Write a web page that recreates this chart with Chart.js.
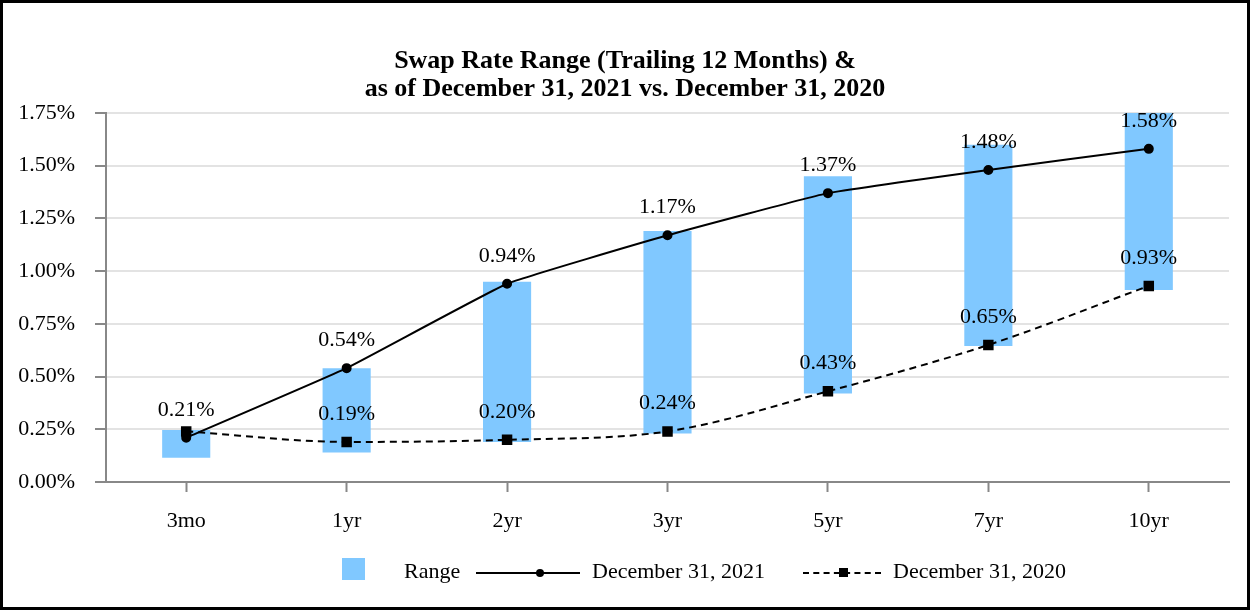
<!DOCTYPE html>
<html>
<head>
<meta charset="utf-8">
<script src="https://cdn.jsdelivr.net/npm/chart.js@4.4.1/dist/chart.umd.min.js"></script>
<style>
  body { margin: 0; background: #fff; }
  #wrap { position: relative; width: 1250px; height: 610px; box-sizing: border-box; border: 3px solid #000; }
  #chart1 { position: absolute; left: 0; top: 0; }
  .leg { position: absolute; top: 555px; font-family: "Liberation Serif", serif; font-size: 22px; color: #000; }
</style>
</head>
<body>
<div id="wrap">
  <canvas id="chart1" width="1244" height="604"></canvas>
  <div class="leg" style="left:339px; top:555px; width:23px; height:22px; background:#80c8ff;"></div>
  <div class="leg" style="left:401px;">Range</div>
  <div class="leg" style="left:473px; top:569px; width:104px; height:2px; background:#000;"></div>
  <div class="leg" style="left:533px; top:566px; width:8px; height:8px; border-radius:50%; background:#000;"></div>
  <div class="leg" style="left:589px;">December 31, 2021</div>
  <div class="leg" style="left:800px; top:569px; width:78px; height:0; border-top:2px dashed #000;"></div>
  <div class="leg" style="left:836px; top:565px; width:9px; height:9px; background:#000;"></div>
  <div class="leg" style="left:890px;">December 31, 2020</div>
</div>
<script>
const tenors = ['3mo', '1yr', '2yr', '3yr', '5yr', '7yr', '10yr'];
const rangeLow = [0.115, 0.14, 0.19, 0.23, 0.42, 0.645, 0.91];
const rangeHigh = [0.247, 0.54, 0.95, 1.19, 1.45, 1.60, 1.75];
const rates2021 = [0.21, 0.54, 0.94, 1.17, 1.37, 1.48, 1.58];
const rates2020 = [0.24, 0.19, 0.20, 0.24, 0.43, 0.65, 0.93];
const yTicks = [0, 0.25, 0.5, 0.75, 1.0, 1.25, 1.5, 1.75];
const titleLines = ['Swap Rate Range (Trailing 12 Months) &', 'as of December 31, 2021 vs. December 31, 2020'];

const serif = '"Liberation Serif", "Times New Roman", serif';

// title centred on the whole canvas, not on the padded box
const titlePlugin = {
    id: 'titlePlugin',
    beforeDraw(chart) {
        const ctx = chart.ctx;
        ctx.save();
        ctx.font = 'bold 26px ' + serif;
        ctx.fillStyle = '#000';
        ctx.textAlign = 'center';
        ctx.textBaseline = 'middle';
        titleLines.forEach((t, i) => ctx.fillText(t, chart.width / 2, 58 + i * 28));
        ctx.restore();
    }
};

// labels above each line point (the 3mo 2020 label is not shown in the original)
const pointLabels = {
    id: 'pointLabels',
    afterDatasetsDraw(chart) {
        const ctx = chart.ctx;
        ctx.save();
        ctx.font = '22px ' + serif;
        ctx.fillStyle = '#000';
        ctx.textAlign = 'center';
        ctx.textBaseline = 'middle';
        [1, 2].forEach(i => {
            const meta = chart.getDatasetMeta(i);
            const vals = chart.data.datasets[i].data;
            meta.data.forEach((pt, j) => {
                if (i == 2 && j == 0) return;
                ctx.fillText(vals[j].toFixed(2) + '%', pt.x, pt.y - 28);
            });
        });
        ctx.restore();
    }
};

const ctx = document.getElementById('chart1');
new Chart(ctx, {
    data: {
        labels: tenors,
        datasets: [
            {
                type: 'bar',
                label: 'Range',
                data: tenors.map((t, i) => [rangeLow[i], rangeHigh[i]]),
                backgroundColor: '#80c8ff',
                borderWidth: 0,
                barPercentage: 0.3,
                categoryPercentage: 1,
                order: 3
            },
            {
                type: 'line',
                label: 'December 31, 2021',
                data: rates2021,
                borderColor: '#000',
                backgroundColor: '#000',
                borderWidth: 2,
                pointRadius: 4,
                pointStyle: 'circle',
                tension: 0.1,
                order: 1
            },
            {
                type: 'line',
                label: 'December 31, 2020',
                data: rates2020,
                borderColor: '#000',
                backgroundColor: '#000',
                borderWidth: 2,
                borderDash: [7, 5],
                pointRadius: 6,
                pointStyle: 'rect',
                cubicInterpolationMode: 'monotone',
                order: 2
            }
        ]
    },
    options: {
        responsive: false,
        animation: false,
        layout: { padding: { left: 0, right: 18, top: 110, bottom: 0 } },
        scales: {
            x: {
                offset: true,
                grid: { offset: false, drawOnChartArea: false, drawTicks: true, tickLength: 10, tickColor: '#888', tickWidth: 2 },
                border: { color: '#888', width: 2 },
                ticks: { color: '#000', padding: 16, font: { family: serif, size: 22 } },
                afterFit: s => { s.height = 125; }
            },
            y: {
                min: 0,
                max: 1.75,
                afterBuildTicks: s => { s.ticks = yTicks.map(v => ({ value: v })); },
                grid: { color: '#e3e3e3', lineWidth: 2, tickLength: 11, tickColor: '#888', tickWidth: 2 },
                border: { color: '#888', width: 2 },
                ticks: {
                    color: '#000',
                    padding: 20,
                    font: { family: serif, size: 22 },
                    callback: v => v.toFixed(2) + '%'
                },
                afterFit: s => { s.width = 103; }
            }
        },
        plugins: {
            legend: { display: false },
            tooltip: { enabled: false },
            title: { display: false }
        }
    },
    plugins: [titlePlugin, pointLabels]
});
</script>
</body>
</html>
